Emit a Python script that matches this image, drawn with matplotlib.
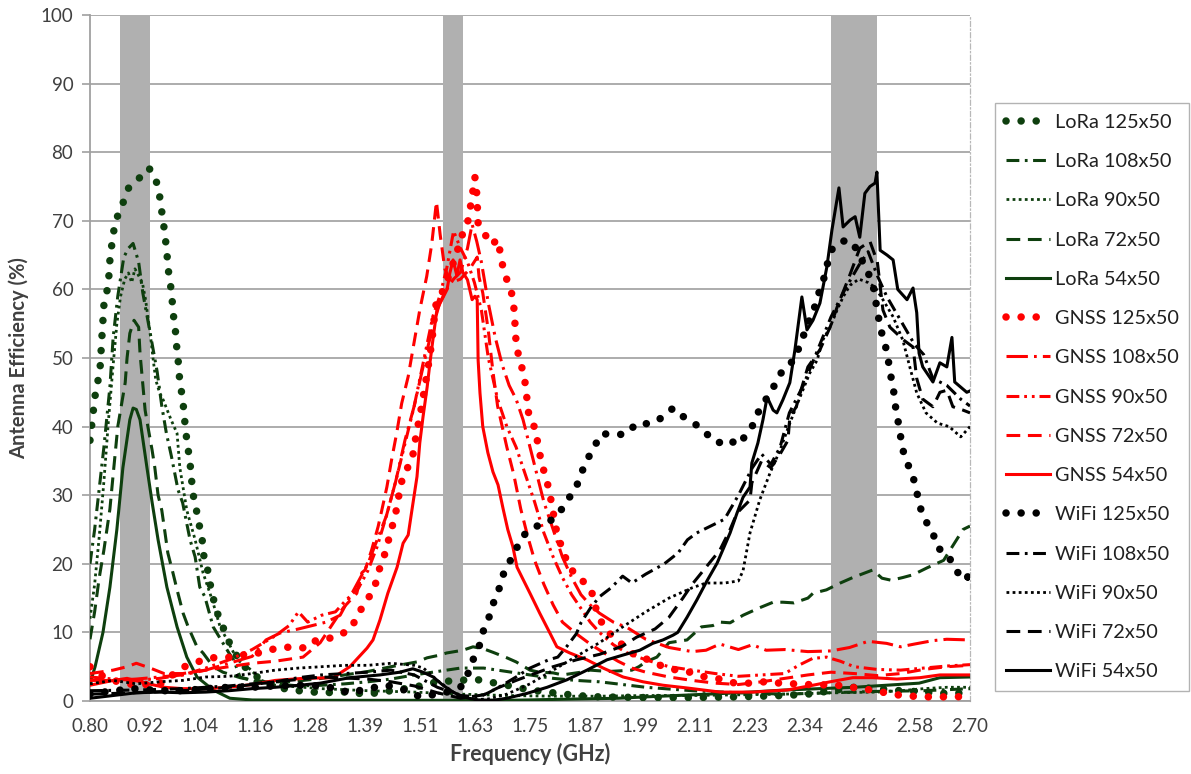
import matplotlib
matplotlib.use("Agg")
import matplotlib.pyplot as plt
import numpy as np

plt.rcParams["font.family"] = ["Lato", "DejaVu Sans"]

GREEN = "#0E3F0E"
RED = "#FF0000"
BLACK = "#000000"

# operating bands (GHz): LoRa 868/915, GNSS L1, WiFi 2.4
BANDS = [(0.865, 0.930), (1.562, 1.606), (2.400, 2.500)]

X_TICKS = ["0.80", "0.92", "1.04", "1.16", "1.28", "1.39", "1.51", "1.63", "1.75",
           "1.87", "1.99", "2.11", "2.23", "2.34", "2.46", "2.58", "2.70"]

# (frequency GHz, efficiency %)
LORA_125 = [(0.800, 38.0), (0.805, 41.0), (0.811, 44.5), (0.817, 46.6), (0.822, 48.8), (0.826, 53.4),
            (0.830, 57.7), (0.837, 59.9), (0.841, 62.1), (0.843, 64.3), (0.847, 66.5), (0.852, 68.8),
            (0.860, 70.8), (0.873, 72.9), (0.884, 74.9), (0.906, 76.2), (0.927, 77.7), (0.940, 76.5),
            (0.949, 74.3), (0.953, 72.2), (0.958, 70.0), (0.962, 67.8), (0.966, 65.5), (0.968, 63.3),
            (0.973, 61.1), (0.977, 58.9), (0.979, 56.7), (0.984, 54.5), (0.986, 52.3), (0.990, 50.1),
            (0.992, 47.8), (0.996, 45.8), (1.001, 43.4), (1.007, 39.1), (1.016, 34.7), (1.022, 30.3),
            (1.029, 28.1), (1.035, 25.9), (1.042, 23.8), (1.044, 21.6), (1.053, 19.5), (1.059, 17.2),
            (1.066, 15.0), (1.074, 13.0), (1.081, 11.8), (1.087, 10.8), (1.098, 8.9), (1.113, 7.0),
            (1.130, 5.2), (1.161, 3.5), (1.200, 2.0), (1.250, 1.5), (1.300, 1.2), (1.350, 1.3),
            (1.400, 1.0), (1.450, 1.5), (1.500, 2.0), (1.550, 2.8), (1.600, 3.0), (1.630, 3.2),
            (1.660, 2.8), (1.700, 2.3), (1.750, 1.6), (1.800, 1.2), (1.850, 0.8), (1.900, 0.6),
            (2.000, 0.5), (2.100, 0.5), (2.200, 0.6), (2.300, 0.8), (2.350, 1.0), (2.400, 1.5),
            (2.450, 2.0), (2.500, 1.8), (2.550, 1.5), (2.600, 1.3), (2.650, 1.1), (2.700, 1.2)]

LORA_108 = [(0.800, 20.0), (0.810, 25.0), (0.820, 31.0), (0.830, 37.0), (0.843, 45.8), (0.850, 53.0),
            (0.860, 59.0), (0.873, 64.7), (0.883, 66.0), (0.893, 66.7), (0.905, 64.0), (0.914, 59.5),
            (0.930, 53.6), (0.945, 48.0), (0.955, 43.0), (0.965, 39.0), (0.976, 35.6), (0.990, 30.8),
            (1.000, 28.9), (1.016, 23.5), (1.027, 21.0), (1.037, 16.6), (1.048, 15.2), (1.066, 10.8),
            (1.074, 9.9), (1.100, 7.0), (1.110, 6.0), (1.124, 3.5), (1.160, 2.8), (1.200, 2.5),
            (1.250, 2.2), (1.300, 2.3), (1.350, 2.5), (1.400, 2.8), (1.450, 3.2), (1.500, 3.8),
            (1.550, 4.3), (1.600, 4.8), (1.650, 4.8), (1.700, 4.3), (1.750, 3.8), (1.800, 3.3),
            (1.850, 3.0), (1.900, 2.8), (1.950, 2.4), (2.000, 2.0), (2.100, 1.5), (2.200, 1.2),
            (2.300, 1.0), (2.400, 1.2), (2.500, 1.4), (2.600, 1.5), (2.700, 1.8)]

LORA_90 = [(0.800, 12.0), (0.810, 17.0), (0.820, 24.0), (0.830, 32.0), (0.840, 41.0), (0.850, 49.0),
           (0.858, 55.0), (0.866, 59.0), (0.875, 61.5), (0.883, 62.4), (0.890, 61.0), (0.897, 63.0),
           (0.905, 62.0), (0.913, 61.0), (0.920, 58.5), (0.925, 56.0), (0.930, 53.6), (0.936, 50.0),
           (0.942, 46.8), (0.950, 45.0), (0.958, 43.9), (0.975, 41.0), (0.988, 39.0), (0.994, 34.0),
           (1.009, 27.8), (1.027, 23.5), (1.044, 18.7), (1.064, 14.7), (1.081, 10.8), (1.096, 8.9),
           (1.118, 6.0), (1.140, 5.0), (1.170, 3.0), (1.200, 2.3), (1.300, 1.8), (1.400, 1.5),
           (1.500, 1.3), (1.600, 1.0), (1.700, 0.8), (1.800, 0.7), (1.900, 0.7), (2.000, 0.8),
           (2.100, 0.8), (2.200, 0.9), (2.300, 1.0), (2.400, 1.2), (2.500, 1.3), (2.550, 1.5),
           (2.600, 1.8), (2.650, 2.0), (2.700, 2.0)]

LORA_72 = [(0.800, 9.0), (0.810, 13.0), (0.820, 18.0), (0.830, 22.0), (0.843, 28.0), (0.850, 33.0),
           (0.860, 40.0), (0.870, 44.0), (0.876, 46.4), (0.880, 50.0), (0.886, 53.6), (0.895, 55.5),
           (0.905, 54.5), (0.908, 50.7), (0.919, 42.4), (0.925, 40.0), (0.934, 36.6), (0.940, 34.0),
           (0.947, 30.0), (0.955, 27.8), (0.962, 24.5), (0.968, 21.6), (0.979, 18.7), (0.988, 16.2),
           (1.001, 12.8), (1.012, 10.8), (1.031, 7.9), (1.044, 7.0), (1.066, 5.0), (1.087, 4.2),
           (1.124, 3.4), (1.145, 3.1), (1.180, 2.8), (1.220, 2.8), (1.260, 3.0), (1.300, 3.3),
           (1.350, 3.8), (1.400, 4.3), (1.450, 5.0), (1.506, 5.7), (1.528, 6.3), (1.556, 6.7),
           (1.570, 7.0), (1.605, 7.4), (1.627, 7.9), (1.650, 7.6), (1.670, 7.1), (1.700, 6.3),
           (1.720, 5.7), (1.750, 4.5), (1.770, 4.2), (1.800, 4.1), (1.820, 3.8), (1.860, 4.2),
           (1.880, 4.5), (1.920, 4.3), (1.970, 4.5), (1.985, 5.0), (2.000, 5.7), (2.024, 6.4),
           (2.050, 8.5), (2.089, 8.9), (2.120, 10.8), (2.145, 11.0), (2.160, 11.5), (2.182, 11.4),
           (2.210, 12.5), (2.246, 13.6), (2.275, 14.4), (2.296, 14.4), (2.320, 14.3), (2.350, 15.0),
           (2.361, 15.7), (2.390, 16.2), (2.420, 17.2), (2.447, 18.0), (2.490, 19.1), (2.510, 17.9),
           (2.530, 17.6), (2.555, 18.0), (2.577, 18.4), (2.607, 19.4), (2.620, 19.8), (2.643, 20.5),
           (2.657, 22.0), (2.685, 25.0), (2.700, 25.5)]

LORA_54 = [(0.800, 2.6), (0.811, 5.0), (0.828, 10.0), (0.843, 16.6), (0.858, 25.0), (0.871, 34.0),
           (0.886, 41.0), (0.893, 42.7), (0.900, 42.5), (0.908, 41.0), (0.923, 34.0), (0.934, 29.0),
           (0.947, 23.5), (0.966, 16.6), (0.988, 10.8), (1.009, 6.4), (1.031, 3.5), (1.066, 1.6),
           (1.102, 0.4), (1.150, 0.15), (1.300, 0.1), (1.500, 0.1), (1.700, 0.1), (1.940, 0.4),
           (2.000, 0.6), (2.100, 0.9), (2.200, 1.2), (2.300, 1.6), (2.450, 2.0), (2.590, 2.6),
           (2.635, 3.4), (2.700, 3.5)]

GNSS_125 = [(0.800, 5.0), (0.830, 3.5), (0.860, 2.8), (0.900, 2.3), (0.940, 2.5), (0.960, 2.6),
            (0.978, 3.8), (1.004, 5.0), (1.032, 5.7), (1.062, 6.3), (1.115, 6.4), (1.145, 7.0),
            (1.167, 7.0), (1.203, 7.7), (1.239, 7.9), (1.267, 7.7), (1.289, 8.9), (1.332, 9.3),
            (1.364, 10.6), (1.380, 12.8), (1.398, 14.7), (1.415, 16.5), (1.420, 18.4), (1.433, 20.6),
            (1.458, 26.8), (1.465, 29.0), (1.469, 31.2), (1.480, 33.4), (1.495, 35.0), (1.506, 39.5),
            (1.512, 41.4), (1.523, 45.8), (1.530, 48.7), (1.538, 52.3), (1.545, 57.0), (1.549, 58.5),
            (1.560, 59.5), (1.575, 62.0), (1.590, 65.0), (1.605, 68.2), (1.616, 70.0), (1.622, 72.3),
            (1.627, 74.5), (1.631, 76.4), (1.635, 74.0), (1.638, 69.7), (1.653, 68.0), (1.666, 66.5),
            (1.681, 67.3), (1.686, 65.2), (1.692, 63.1), (1.702, 61.0), (1.713, 58.9), (1.716, 56.7),
            (1.718, 54.5), (1.720, 52.2), (1.726, 50.1), (1.735, 48.0), (1.741, 45.8), (1.744, 43.6),
            (1.748, 41.4), (1.763, 39.5), (1.767, 37.3), (1.774, 35.1), (1.782, 33.0), (1.791, 30.9),
            (1.800, 27.5), (1.808, 24.5), (1.819, 22.3), (1.830, 20.3), (1.847, 18.4), (1.869, 17.2),
            (1.884, 15.7), (1.895, 12.8), (1.908, 11.0), (1.929, 9.3), (1.955, 7.9), (1.981, 6.4),
            (2.009, 6.0), (2.037, 5.0), (2.067, 4.5), (2.095, 4.2), (2.128, 3.5), (2.160, 3.2),
            (2.193, 2.6), (2.225, 2.6), (2.257, 2.8), (2.290, 2.6), (2.350, 2.4), (2.413, 2.3),
            (2.445, 2.0), (2.477, 1.7), (2.510, 1.3), (2.542, 0.9), (2.575, 0.7), (2.607, 0.6),
            (2.672, 0.6), (2.700, 0.8)]

GNSS_108 = [(0.800, 3.0), (0.850, 3.0), (0.900, 3.2), (0.950, 3.5), (1.000, 3.8), (1.050, 4.5),
            (1.100, 5.5), (1.150, 6.5), (1.180, 8.9), (1.210, 9.9), (1.250, 10.5), (1.280, 11.0),
            (1.310, 11.5), (1.340, 12.5), (1.360, 15.0), (1.380, 17.5), (1.400, 20.0), (1.420, 23.5),
            (1.440, 27.0), (1.460, 32.0), (1.480, 38.0), (1.500, 43.0), (1.520, 49.0), (1.540, 54.5),
            (1.555, 58.0), (1.570, 60.0), (1.585, 61.5), (1.600, 62.5), (1.615, 66.0), (1.625, 69.5),
            (1.635, 67.0), (1.645, 64.0), (1.660, 58.0), (1.675, 53.0), (1.690, 49.0), (1.705, 46.0),
            (1.720, 44.0), (1.735, 41.0), (1.750, 37.0), (1.765, 33.0), (1.780, 29.0), (1.800, 25.0),
            (1.820, 21.0), (1.840, 18.0), (1.860, 15.5), (1.880, 14.0), (1.900, 12.8), (1.930, 11.5),
            (1.960, 10.7), (2.000, 9.0), (2.050, 7.8), (2.100, 7.2), (2.130, 7.4), (2.160, 8.3),
            (2.200, 7.5), (2.230, 8.2), (2.260, 7.4), (2.300, 7.5), (2.350, 7.2), (2.400, 7.3),
            (2.440, 7.8), (2.480, 8.7), (2.520, 8.4), (2.550, 7.9), (2.580, 8.3), (2.620, 8.8),
            (2.650, 9.0), (2.700, 8.9)]

GNSS_90 = [(0.800, 3.5), (0.850, 3.2), (0.900, 3.0), (0.950, 3.3), (1.000, 3.8), (1.050, 4.8),
           (1.100, 6.0), (1.150, 7.5), (1.200, 9.5), (1.230, 11.0), (1.250, 13.0), (1.270, 11.5),
           (1.300, 12.5), (1.330, 13.0), (1.350, 14.5), (1.380, 16.5), (1.400, 19.0), (1.420, 22.5),
           (1.440, 27.0), (1.460, 32.0), (1.480, 37.5), (1.500, 43.0), (1.520, 49.5), (1.540, 56.0),
           (1.555, 59.0), (1.570, 63.0), (1.585, 68.5), (1.600, 66.0), (1.615, 64.0), (1.630, 61.0),
           (1.645, 57.0), (1.660, 50.0), (1.680, 44.0), (1.700, 40.0), (1.720, 37.0), (1.740, 33.0),
           (1.760, 29.0), (1.780, 24.5), (1.800, 21.0), (1.820, 18.0), (1.840, 15.5), (1.860, 13.5),
           (1.880, 11.5), (1.900, 10.0), (1.930, 8.2), (1.960, 7.0), (2.000, 6.0), (2.050, 5.0),
           (2.100, 4.5), (2.150, 4.0), (2.200, 3.6), (2.250, 3.8), (2.300, 4.0), (2.330, 5.2),
           (2.360, 6.2), (2.390, 6.4), (2.420, 5.8), (2.450, 5.0), (2.500, 4.6), (2.550, 4.5),
           (2.600, 4.8), (2.650, 5.1), (2.700, 5.3)]

GNSS_72 = [(0.800, 4.0), (0.850, 4.5), (0.880, 5.0), (0.900, 5.5), (0.930, 4.8), (0.960, 4.0),
           (1.000, 4.0), (1.050, 4.5), (1.100, 5.0), (1.150, 5.5), (1.200, 5.8), (1.260, 6.4),
           (1.297, 8.5), (1.347, 13.6), (1.376, 15.7), (1.387, 18.7), (1.394, 19.1), (1.408, 22.0),
           (1.422, 25.4), (1.430, 27.8), (1.441, 31.2), (1.451, 35.1), (1.462, 39.0), (1.473, 43.4),
           (1.487, 47.3), (1.498, 51.6), (1.512, 57.0), (1.527, 61.9), (1.538, 66.7), (1.548, 72.8),
           (1.556, 68.0), (1.566, 63.0), (1.580, 61.0), (1.600, 61.5), (1.620, 63.0), (1.636, 64.7),
           (1.640, 61.8), (1.648, 59.5), (1.660, 54.0), (1.670, 48.0), (1.680, 43.0), (1.690, 40.0),
           (1.700, 37.0), (1.715, 33.0), (1.730, 28.0), (1.745, 24.0), (1.760, 20.5), (1.780, 17.0),
           (1.800, 14.0), (1.820, 11.5), (1.850, 9.8), (1.880, 8.3), (1.910, 7.0), (1.940, 5.8),
           (1.970, 4.8), (2.000, 4.2), (2.050, 3.5), (2.100, 3.0), (2.150, 2.6), (2.200, 2.4),
           (2.250, 2.8), (2.300, 3.3), (2.350, 3.8), (2.400, 4.2), (2.450, 4.0), (2.500, 3.7),
           (2.550, 4.0), (2.600, 4.6), (2.650, 5.0), (2.700, 5.2)]

GNSS_54 = [(0.800, 2.3), (0.850, 3.0), (0.880, 3.3), (0.920, 2.6), (0.960, 2.0), (1.000, 1.8),
           (1.050, 1.8), (1.100, 2.0), (1.150, 2.4), (1.200, 3.0), (1.260, 3.3), (1.325, 3.4),
           (1.361, 5.0), (1.398, 7.7), (1.411, 8.9), (1.426, 11.8), (1.443, 15.7), (1.463, 19.5),
           (1.476, 23.0), (1.487, 24.2), (1.495, 27.8), (1.506, 32.7), (1.512, 37.6), (1.519, 41.4),
           (1.528, 45.8), (1.534, 49.3), (1.541, 53.0), (1.549, 57.0), (1.556, 58.0), (1.571, 60.0),
           (1.577, 62.4), (1.584, 64.3), (1.592, 62.0), (1.599, 64.3), (1.605, 62.5), (1.615, 61.4),
           (1.625, 58.5), (1.631, 59.0), (1.636, 58.5), (1.638, 49.7), (1.642, 44.9), (1.648, 40.0),
           (1.659, 36.2), (1.670, 33.4), (1.681, 31.5), (1.692, 28.0), (1.702, 25.0), (1.713, 22.5),
           (1.722, 19.5), (1.733, 18.0), (1.750, 15.7), (1.771, 12.8), (1.793, 9.9), (1.808, 7.9),
           (1.836, 7.0), (1.873, 6.0), (1.908, 4.8), (1.951, 3.5), (1.994, 2.8), (2.037, 2.3),
           (2.089, 1.9), (2.160, 1.3), (2.231, 1.3), (2.305, 1.6), (2.361, 2.3), (2.398, 2.8),
           (2.447, 3.4), (2.490, 3.4), (2.542, 3.2), (2.592, 3.4), (2.635, 3.8), (2.700, 3.8)]

WIFI_125 = [(0.800, 1.0), (0.850, 1.5), (0.900, 1.8), (0.950, 1.5), (1.000, 1.5), (1.050, 1.8),
            (1.100, 2.0), (1.150, 2.0), (1.200, 2.2), (1.253, 2.3), (1.300, 2.2), (1.330, 1.8),
            (1.361, 1.2), (1.400, 1.8), (1.440, 2.3), (1.480, 1.6), (1.513, 0.6), (1.566, 1.2),
            (1.600, 2.0), (1.615, 3.8), (1.627, 6.0), (1.640, 7.9), (1.648, 10.0), (1.661, 12.1),
            (1.670, 14.1), (1.683, 16.3), (1.692, 18.4), (1.707, 20.4), (1.722, 22.4), (1.737, 24.2),
            (1.761, 25.4), (1.791, 26.1), (1.813, 27.4), (1.830, 29.2), (1.849, 31.0), (1.860, 33.1),
            (1.873, 35.1), (1.888, 37.0), (1.905, 39.0), (1.927, 38.8), (1.957, 38.9), (1.981, 40.5),
            (2.009, 40.4), (2.035, 41.3), (2.059, 42.7), (2.082, 41.4), (2.110, 40.2), (2.132, 38.9),
            (2.156, 37.6), (2.177, 38.2), (2.199, 37.3), (2.218, 38.9), (2.236, 40.7), (2.246, 42.7),
            (2.265, 44.5), (2.281, 46.4), (2.296, 48.3), (2.320, 49.7), (2.333, 51.9), (2.350, 55.0),
            (2.365, 57.5), (2.376, 60.0), (2.387, 62.1), (2.393, 64.0), (2.404, 66.2), (2.432, 67.2),
            (2.447, 66.8), (2.462, 64.9), (2.477, 62.8), (2.490, 61.0), (2.495, 58.8), (2.501, 56.6),
            (2.506, 54.4), (2.516, 52.2), (2.523, 50.0), (2.527, 48.0), (2.534, 45.8), (2.540, 42.5),
            (2.549, 39.2), (2.553, 37.0), (2.564, 34.8), (2.577, 32.7), (2.585, 30.5), (2.592, 28.3),
            (2.603, 26.4), (2.620, 24.5), (2.629, 22.4), (2.652, 21.3), (2.667, 19.4), (2.685, 17.6),
            (2.695, 18.1), (2.700, 17.5)]

WIFI_108 = [(0.800, 1.5), (0.900, 1.6), (1.000, 1.8), (1.100, 2.2), (1.200, 2.8), (1.250, 3.4),
            (1.300, 3.8), (1.350, 4.0), (1.400, 4.2), (1.450, 4.5), (1.500, 3.8), (1.550, 2.0),
            (1.600, 0.8), (1.640, 0.6), (1.660, 1.2), (1.680, 1.9), (1.720, 3.5), (1.750, 4.8),
            (1.790, 6.0), (1.810, 6.4), (1.830, 8.0), (1.850, 9.8), (1.860, 11.4), (1.880, 13.5),
            (1.900, 15.2), (1.925, 16.5), (1.950, 18.2), (1.970, 17.2), (2.000, 18.5), (2.040, 20.0),
            (2.070, 21.6), (2.090, 23.5), (2.110, 24.5), (2.140, 25.5), (2.170, 26.5), (2.200, 30.0),
            (2.230, 34.0), (2.250, 36.0), (2.270, 34.5), (2.290, 37.0), (2.310, 42.0), (2.340, 46.0),
            (2.370, 51.0), (2.400, 56.0), (2.430, 60.0), (2.460, 63.5), (2.480, 65.5), (2.500, 62.0),
            (2.520, 59.0), (2.550, 55.5), (2.580, 52.0), (2.600, 50.5), (2.620, 47.0), (2.650, 46.0),
            (2.680, 44.0), (2.700, 43.0)]

WIFI_90 = [(0.800, 2.5), (0.850, 3.0), (0.900, 2.5), (0.950, 2.8), (1.000, 3.0), (1.050, 3.5),
           (1.100, 3.6), (1.150, 4.0), (1.200, 4.5), (1.250, 4.8), (1.300, 5.0), (1.350, 5.2),
           (1.400, 5.2), (1.450, 5.5), (1.500, 5.2), (1.520, 4.8), (1.550, 3.0), (1.580, 1.5),
           (1.600, 0.6), (1.630, 0.2), (1.660, 0.3), (1.700, 1.0), (1.750, 2.5), (1.800, 4.5),
           (1.850, 6.5), (1.900, 8.5), (1.950, 10.8), (2.000, 13.0), (2.050, 15.0), (2.100, 16.5),
           (2.130, 17.2), (2.170, 17.2), (2.200, 17.5), (2.210, 19.0), (2.225, 24.5), (2.246, 29.3),
           (2.268, 33.2), (2.290, 36.6), (2.311, 40.5), (2.333, 44.3), (2.354, 47.8), (2.370, 49.7),
           (2.382, 52.6), (2.398, 54.5), (2.413, 57.0), (2.426, 58.9), (2.441, 60.6), (2.460, 61.5),
           (2.480, 61.0), (2.495, 60.3), (2.512, 58.5), (2.534, 56.0), (2.555, 52.6), (2.570, 48.7),
           (2.585, 44.9), (2.605, 42.0), (2.630, 40.5), (2.655, 40.0), (2.680, 38.5), (2.700, 40.0)]

WIFI_72 = [(0.800, 1.0), (0.900, 1.2), (1.000, 1.5), (1.100, 2.0), (1.200, 2.8), (1.300, 3.5),
           (1.400, 3.2), (1.450, 2.8), (1.500, 2.2), (1.550, 1.2), (1.600, 0.4), (1.650, 0.9),
           (1.680, 1.9), (1.720, 3.0), (1.760, 4.0), (1.800, 5.0), (1.850, 6.0), (1.900, 6.8),
           (1.950, 8.0), (1.980, 9.3), (2.020, 10.5), (2.050, 12.2), (2.080, 15.0), (2.100, 17.0),
           (2.130, 19.5), (2.160, 22.0), (2.182, 25.0), (2.197, 27.4), (2.225, 29.3), (2.229, 31.8),
           (2.250, 35.0), (2.270, 34.0), (2.290, 36.0), (2.307, 38.0), (2.311, 41.4), (2.325, 42.9),
           (2.335, 45.3), (2.350, 48.7), (2.376, 51.2), (2.398, 54.5), (2.413, 57.4), (2.440, 62.0),
           (2.462, 66.0), (2.484, 67.0), (2.500, 64.0), (2.512, 57.0), (2.527, 54.5), (2.557, 52.6),
           (2.577, 51.6), (2.585, 47.0), (2.598, 44.0), (2.620, 42.9), (2.635, 45.0), (2.650, 45.3),
           (2.663, 42.9), (2.685, 42.4), (2.700, 42.0)]

WIFI_54 = [(0.800, 0.4), (0.850, 0.8), (0.900, 1.2), (0.950, 1.3), (1.000, 1.2), (1.050, 1.3),
           (1.100, 1.5), (1.150, 1.8), (1.200, 2.0), (1.253, 2.3), (1.297, 2.6), (1.361, 3.4),
           (1.426, 3.8), (1.469, 4.2), (1.497, 4.7), (1.519, 4.2), (1.541, 3.5), (1.562, 2.3),
           (1.584, 1.3), (1.605, 0.6), (1.636, 0.15), (1.670, 0.1), (1.700, 0.4), (1.743, 1.1),
           (1.787, 2.0), (1.830, 3.1), (1.873, 4.5), (1.916, 6.0), (1.951, 6.7), (1.987, 7.4),
           (2.015, 8.4), (2.037, 8.9), (2.059, 9.6), (2.069, 10.0), (2.089, 12.2), (2.110, 14.7),
           (2.132, 17.5), (2.154, 20.1), (2.182, 24.5), (2.197, 27.4), (2.210, 29.7), (2.225, 31.2),
           (2.229, 34.7), (2.242, 37.6), (2.253, 41.0), (2.262, 44.3), (2.275, 42.4), (2.283, 42.0),
           (2.296, 43.9), (2.311, 46.4), (2.322, 51.2), (2.337, 58.9), (2.348, 54.1), (2.361, 55.5),
           (2.376, 58.0), (2.391, 63.3), (2.402, 68.7), (2.417, 74.8), (2.426, 69.1), (2.441, 70.1),
           (2.452, 70.6), (2.462, 67.6), (2.473, 74.0), (2.484, 75.0), (2.495, 75.5), (2.499, 77.1),
           (2.506, 65.7), (2.521, 65.0), (2.534, 64.3), (2.544, 60.0), (2.564, 58.5), (2.577, 60.2),
           (2.585, 56.6), (2.590, 50.7), (2.598, 48.7), (2.620, 46.5), (2.635, 49.3), (2.650, 48.7),
           (2.661, 53.0), (2.667, 46.5), (2.693, 45.0), (2.700, 45.2)]

# line style per antenna length
ROUND_DOT = dict(lw=5.4, ls=(0, (0.01, 2.0)), dash_capstyle="round")
DASH_DOT = dict(lw=2.2, ls=(0, (4.2, 1.8, 0.9, 1.8)))
LONG_DASH_DOT = dict(lw=2.2, ls=(0, (7.0, 2.0, 0.9, 2.0)))
DASH_DOT_DOT = dict(lw=2.2, ls=(0, (4.2, 1.6, 0.9, 1.6, 0.9, 1.6)))
SQUARE_DOT = dict(lw=2.0, ls=(0, (1.0, 1.2)))
DASHED = dict(lw=2.2, ls=(0, (4.5, 2.5)))
SOLID = dict(lw=2.2, ls="-")

series = [
    ("LoRa 125x50", LORA_125, GREEN, ROUND_DOT),
    ("LoRa 108x50", LORA_108, GREEN, DASH_DOT),
    ("LoRa 90x50", LORA_90, GREEN, SQUARE_DOT),
    ("LoRa 72x50", LORA_72, GREEN, DASHED),
    ("LoRa 54x50", LORA_54, GREEN, SOLID),
    ("GNSS 125x50", GNSS_125, RED, ROUND_DOT),
    ("GNSS 108x50", GNSS_108, RED, LONG_DASH_DOT),
    ("GNSS 90x50", GNSS_90, RED, DASH_DOT_DOT),
    ("GNSS 72x50", GNSS_72, RED, DASHED),
    ("GNSS 54x50", GNSS_54, RED, SOLID),
    ("WiFi 125x50", WIFI_125, BLACK, ROUND_DOT),
    ("WiFi 108x50", WIFI_108, BLACK, DASH_DOT),
    ("WiFi 90x50", WIFI_90, BLACK, SQUARE_DOT),
    ("WiFi 72x50", WIFI_72, BLACK, DASHED),
    ("WiFi 54x50", WIFI_54, BLACK, SOLID),
]

fig = plt.figure(figsize=(11.91, 7.74), dpi=100)
ax = fig.add_axes([90 / 1191, 73 / 774, 880 / 1191, 686 / 774])

for lo, hi in BANDS:
    ax.axvspan(lo, hi, color="#B0B0B0", lw=0, zorder=1)

for label, pts, color, style in series:
    arr = np.array(pts)
    ax.plot(arr[:, 0], arr[:, 1], color=color, label=label, zorder=3,
            linewidth=style["lw"], linestyle=style["ls"],
            dash_capstyle=style.get("dash_capstyle", "butt"))

ax.set_xlim(0.8, 2.7)
ax.set_ylim(0, 100)
ax.set_xticks(np.linspace(0.8, 2.7, len(X_TICKS)))
ax.set_xticklabels(X_TICKS)
ax.set_yticks(np.arange(0, 101, 10))
ax.tick_params(axis="both", labelsize=13.5, colors="#404040", length=0, pad=8)
ax.tick_params(axis="y", length=6, color="#A0A0A0", width=1.2, pad=6)
ax.tick_params(axis="x", pad=12)
ax.grid(axis="y", color="#A6A6A6", lw=1.3, zorder=0)
ax.set_axisbelow(True)

ax.spines["top"].set_visible(False)
ax.spines["left"].set_color("#A0A0A0")
ax.spines["left"].set_linewidth(1.3)
ax.spines["bottom"].set_color("#A0A0A0")
ax.spines["bottom"].set_linewidth(1.3)
ax.spines["right"].set_color("#B8B8B8")
ax.spines["right"].set_linewidth(0.9)
ax.spines["right"].set_linestyle((0, (4, 2, 1, 2)))

ax.set_xlabel("Frequency (GHz)", fontsize=15.5, fontweight="bold", color="#404040", labelpad=6)
ax.set_ylabel("Antenna Efficiency (%)", fontsize=14.5, fontweight="bold", color="#404040", labelpad=8)

leg = fig.legend(loc="upper left", bbox_to_anchor=(995 / 1191, 1 - 103 / 774),
                 fontsize=14.3, frameon=True, fancybox=False, edgecolor="#A0A0A0",
                 handlelength=2.2, handletextpad=0.25, labelspacing=1.12,
                 borderpad=0.55, borderaxespad=0)
leg.get_frame().set_linewidth(1.0)
for t in leg.get_texts():
    t.set_color("#202020")

fig.savefig("out.png", dpi=100)
